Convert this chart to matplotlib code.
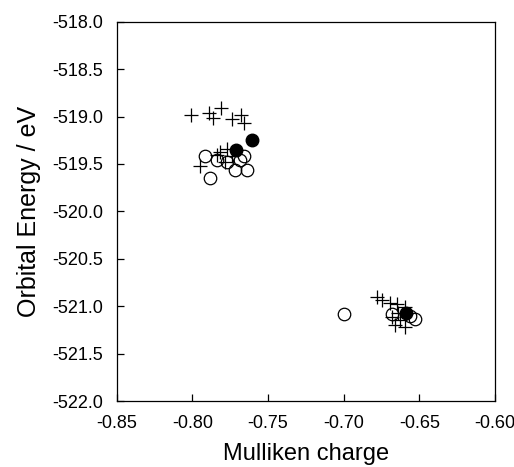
import matplotlib
matplotlib.use("Agg")
import matplotlib.pyplot as plt
from matplotlib.ticker import FormatStrFormatter

plt.rcParams["font.family"] = ["Liberation Sans", "DejaVu Sans"]

# plus markers
plus_x = [-0.8011, -0.7888, -0.7811, -0.7862, -0.7740, -0.7680, -0.7659,
          -0.7817, -0.7773, -0.7839, -0.7950, -0.7784, -0.7740,
          -0.6782, -0.6749, -0.6694, -0.6650, -0.6595, -0.6682, -0.6627,
          -0.6661, -0.6595, -0.6641]
plus_y = [-518.98, -518.96, -518.91, -519.02, -519.03, -518.98, -519.07,
          -519.37, -519.34, -519.41, -519.52, -519.48, -519.42,
          -520.90, -520.94, -520.97, -520.98, -521.01, -521.11, -521.15,
          -521.20, -521.22, -521.07]

# open circles
open_x = [-0.7916, -0.7839, -0.7773, -0.7685, -0.7659, -0.7718, -0.7641, -0.7883,
          -0.6998, -0.6682, -0.6528, -0.6561]
open_y = [-519.42, -519.46, -519.48, -519.46, -519.42, -519.56, -519.56, -519.65,
          -521.08, -521.08, -521.14, -521.10]

# filled circles
fill_x = [-0.7608, -0.7714, -0.6588]
fill_y = [-519.25, -519.35, -521.07]

fig = plt.figure(figsize=(5.14, 4.67), dpi=100)
ax = fig.add_axes([0.227, 0.1413, 0.736, 0.8122])

ax.plot(plus_x, plus_y, "k+", markersize=10, markeredgewidth=0.9, linestyle="none")
ax.plot(open_x, open_y, "o", markersize=9, markerfacecolor="none",
        markeredgecolor="k", markeredgewidth=0.9, linestyle="none")
ax.plot(fill_x, fill_y, "ko", markersize=9, linestyle="none")

ax.set_xlim(-0.85, -0.60)
ax.set_ylim(-522.0, -518.0)
ax.set_xticks([-0.85, -0.80, -0.75, -0.70, -0.65, -0.60])
ax.set_yticks([-522.0, -521.5, -521.0, -520.5, -520.0, -519.5, -519.0, -518.5, -518.0])
ax.xaxis.set_major_formatter(FormatStrFormatter("%.2f"))
ax.yaxis.set_major_formatter(FormatStrFormatter("%.1f"))
ax.tick_params(direction="in", length=5, width=0.9, labelsize=13)
ax.tick_params(axis="x", pad=10)
ax.tick_params(axis="y", pad=10)
for s in ax.spines.values():
    s.set_linewidth(0.9)

ax.set_xlabel("Mulliken charge", fontsize=17, labelpad=8)
ax.set_ylabel("Orbital Energy / eV", fontsize=18, labelpad=8)

fig.savefig("out.png", dpi=100)
